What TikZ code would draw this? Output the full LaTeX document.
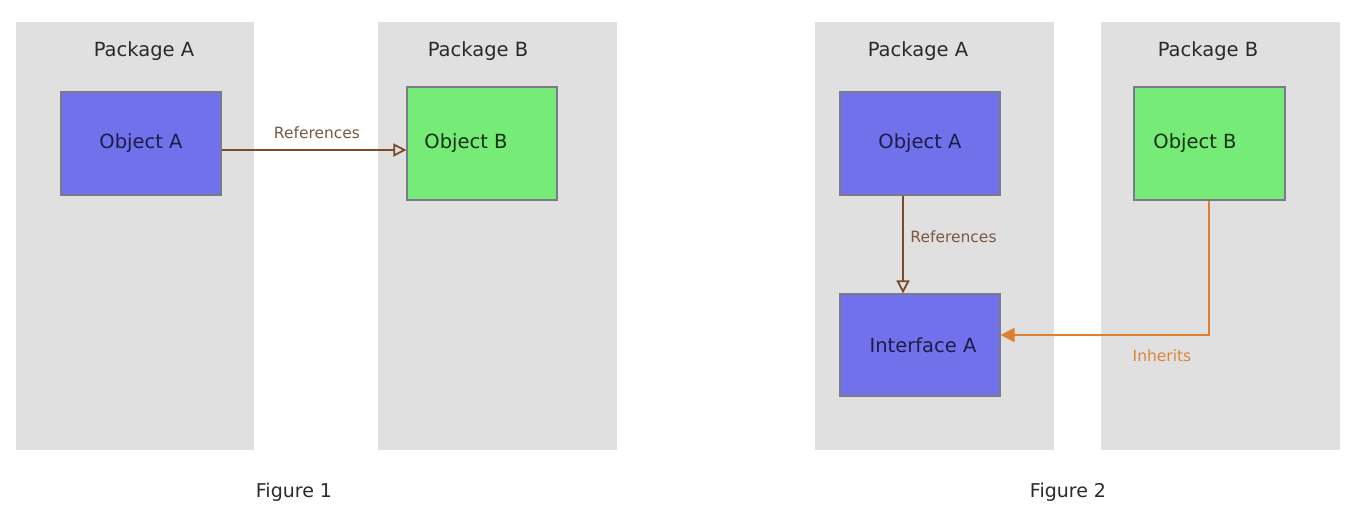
\documentclass[tikz,border=0pt]{standalone}
\usepackage{fontspec}
\setmainfont{DejaVu Sans}
\usetikzlibrary{arrows.meta}
\definecolor{panelgray}{HTML}{E0E0E0}
\definecolor{objblue}{HTML}{7171EC}
\definecolor{objgreen}{HTML}{77EB77}
\definecolor{boxline}{HTML}{7A7A8A}
\definecolor{refbrown}{HTML}{7A4B2B}
\definecolor{reftext}{HTML}{7A5842}
\definecolor{inhorange}{HTML}{DC8030}
\definecolor{inhtext}{HTML}{D8873A}
\definecolor{navytext}{HTML}{1C1C48}
\definecolor{greentext}{HTML}{123012}
\definecolor{labeltext}{HTML}{2A2A2A}
\begin{document}
\begin{tikzpicture}[x=1pt,y=-1pt,
  panelbox/.style={fill=panelgray, draw=none, minimum width=239pt, minimum height=428pt, inner sep=0pt},
  pkglabel/.style={text=labeltext, font=\fontsize{19.5}{23}\selectfont, inner sep=0pt},
  bluebox/.style={fill=objblue, draw=boxline, line width=1.2pt, minimum width=160pt, inner sep=0pt, text=navytext, font=\fontsize{19.5}{23}\selectfont},
  greenbox/.style={fill=objgreen, draw=boxline, line width=1.2pt, minimum width=150pt, minimum height=113pt, inner sep=0pt, text=greentext, font=\fontsize{19.5}{23}\selectfont},
  reflink/.style={draw=refbrown, line width=2.2pt, -{Triangle[open, length=13pt, width=13pt, line width=1.8pt]}},
  inhlink/.style={draw=inhorange, line width=2.2pt, -{Triangle[length=14pt, width=14pt]}},
  reflabel/.style={text=reftext, font=\fontsize{15.5}{19}\selectfont, inner sep=0pt},
  inhlabel/.style={text=inhtext, font=\fontsize{15.5}{19}\selectfont, inner sep=0pt},
  figlabel/.style={text=labeltext, font=\fontsize{19}{23}\selectfont, inner sep=0pt}
]
\useasboundingbox[fill=white] (0,0) rectangle (1354,510);

% Figure 1
\node[panelbox, minimum width=238pt] (pa1) at (135,236) {};
\node[panelbox] (pb1) at (497.5,236) {};
\node[pkglabel] (pa1l) at (144,51) {Package A};
\node[pkglabel] (pb1l) at (478,51) {Package B};
\node[bluebox, minimum height=103pt] (oa1) at (141,143.5) {Object A};
\node[greenbox] (ob1) at (482,143.5) {Object B\hspace*{32pt}};
\draw[reflink] ([yshift=-6.5pt]oa1.east) -- ([yshift=-6.5pt]ob1.west);
\node[reflabel] (ref1) at (317,133) {References};
\node[figlabel] (fig1) at (294,492) {Figure 1};

% Figure 2
\node[panelbox] (pa2) at (934.5,236) {};
\node[panelbox] (pb2) at (1220.5,236) {};
\node[pkglabel] (pa2l) at (918,51) {Package A};
\node[pkglabel] (pb2l) at (1208,51) {Package B};
\node[bluebox, minimum height=103pt] (oa2) at (920,143.5) {Object A};
\node[greenbox, minimum width=151pt] (ob2) at (1209.5,143.5) {Object B\hspace*{29pt}};
\node[bluebox, minimum height=102pt] (ia) at (920,345) {\hspace*{6pt}Interface A};
\draw[reflink] ([xshift=-17pt]oa2.south) -- ([xshift=-17pt]ia.north);
\node[reflabel] (ref2) at (953.5,237) {References};
\draw[inhlink] ([xshift=-0.5pt]ob2.south) |- ([yshift=10pt]ia.east);
\node[inhlabel] (inh) at (1162,356) {Inherits};
\node[figlabel] (fig2) at (1068,492) {Figure 2};
\end{tikzpicture}
\end{document}
